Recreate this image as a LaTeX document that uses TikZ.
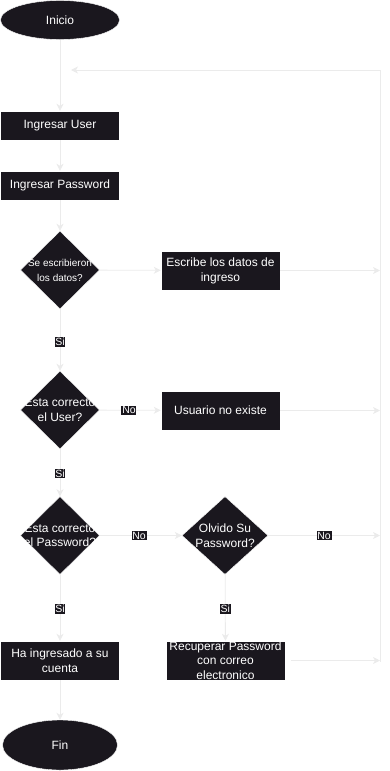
\documentclass[tikz,border=0pt]{standalone}
\usepackage{fontspec}
\setmainfont{Liberation Sans}
\usetikzlibrary{arrows.meta, shapes.geometric, positioning}
\definecolor{flowDark}{HTML}{1A171E}
\definecolor{flowEdge}{HTML}{EBEBEB}
\tikzset{
  flow/.style      = {-{Stealth[length=7pt, width=7pt, inset=2pt]}, flowEdge, line width=0.8pt},
  rail/.style      = {flowEdge, line width=0.8pt},
  terminal/.style  = {ellipse, fill=flowDark, draw=white, text=white, inner sep=0pt,
                      font=\fontsize{12}{14}\selectfont},
  stepbox/.style   = {rectangle, fill=flowDark, draw=white, text=white, inner sep=0pt,
                      minimum width=119pt, minimum height=39pt, align=center,
                      font=\fontsize{12}{15}\selectfont},
  decision/.style  = {diamond, fill=flowDark, draw=white, inner sep=0pt,
                      minimum width=79pt, minimum height=78pt},
  qtext/.style     = {text=white, align=center, inner sep=0pt, font=\fontsize{12}{14.5}\selectfont},
  answer/.style    = {fill=flowDark, text=white, inner sep=0.8pt, font=\fontsize{10.5}{12}\selectfont},
}

\begin{document}
\begin{tikzpicture}[x=1pt,y=-1pt]
  \useasboundingbox (0,0) rectangle (389,771);
  % main column
  \node[terminal, minimum width=119pt, minimum height=39pt] (start) at (60,20) {Inicio};
  \node[stepbox, minimum height=29pt] (user) at (60,125.5) {Ingresar User};
  \node[stepbox, minimum height=29pt] (pass) at (60,185.5) {Ingresar Password};
  \node[decision] (q1) at (60,270) {};
  \node[qtext, font=\fontsize{10}{15}\selectfont] (q1txt) at (q1) {Se escribieron\\los datos?};
  \node[decision] (q2) at (60,410) {};
  \node[qtext] (q2txt) at (q2) {Esta correcto\\el User?};
  \node[decision] (q3) at (60,535.5) {};
  \node[qtext] (q3txt) at (q3) {Esta correcto\\el Password?};
  \node[stepbox] (done) at (60,660.5) {Ha ingresado a su\\cuenta};
  \node[terminal, minimum width=115pt, minimum height=50pt] (end) at (60,745) {Fin};
  % side column
  \node[stepbox] (write) at (220.5,270.5) {Escribe los datos de\\ingreso};
  \node[stepbox] (nouser) at (220.5,410.5) {Usuario no existe};
  \node[decision, minimum width=86pt] (forgot) at (225,535.5) {};
  \node[qtext] (forgottxt) at (forgot) {Olvido Su\\Password?};
  \node[stepbox] (recover) at (225.5,660.5) {};
  \node[qtext] (recovertxt) at (recover) {Recuperar Password\\con correo\\electronico};
  % return rail
  \coordinate (railtop) at (380,70);
  \coordinate (railbot) at (380,662);
  \coordinate (loopin) at (71,70);

  \draw[flow] (start) -- (user);
  \draw[flow] (user) -- (pass);
  \draw[flow] (pass) -- (q1);
  \draw[flow] (q1) -- (write);
  \draw[flow] (q1) -- node[answer, pos=0.53] (si1) {Si} (q2);
  \draw[flow] (q2) -- node[answer, pos=0.48] (no1) {No} (nouser);
  \draw[flow] (q2) -- node[answer, pos=0.52] (si2) {Si} (q3);
  \draw[flow] (q3) -- node[answer, pos=0.48] (no2) {No} (forgot);
  \draw[flow] (q3) -- node[answer, pos=0.52] (si3) {Si} (done);
  \draw[flow] (forgot) -- node[answer, pos=0.52] (si4) {Si} (recover);
  \draw[flow] (done) -- (end);
  \draw[flow] (write.east) -- (write.east -| railtop);
  \draw[flow] (nouser.east) -- (nouser.east -| railtop);
  \draw[flow] (forgot.east) -- node[answer, pos=0.5] (no3) {No} (forgot.east -| railtop);
  \draw[flow, shorten <=6pt] (recover.east) -- (recover.east -| railtop);
  \draw[rail] (railbot) -- (railtop);
  \draw[flow] (railtop) -- (loopin);
\end{tikzpicture}
\end{document}
